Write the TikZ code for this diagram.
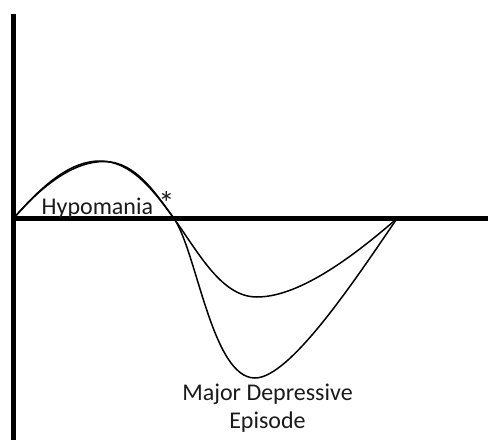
\documentclass[tikz,border=0pt]{standalone}
\usepackage{fontspec}
\setmainfont{Carlito}
\definecolor{axisblack}{HTML}{000000}
\definecolor{curveblack}{HTML}{000000}
\definecolor{labeltext}{HTML}{1A1A1A}

\begin{document}
\begin{tikzpicture}[
    x=1pt, y=-1pt,
    axis/.style={line width=5.5pt, axisblack},
    mood/.style={line width=1.5pt, curveblack},
    lbl/.style={font=\fontsize{24}{27.5}\selectfont, text=labeltext, inner sep=0pt}
]
\useasboundingbox (0,0) rectangle (488,440);

% Axes
\coordinate (O) at (13.5,218.5);
\coordinate (Ytop) at (13.5,14);
\coordinate (Ybot) at (13.5,440);
\coordinate (Xend) at (488,218.5);
\coordinate (Cross) at (174,218.5);
\coordinate (End) at (397,218.5);

% Mood curves (milder dip)
\draw[mood] (O) .. controls (45,182) and (72,161) .. (100,161)
    .. controls (130,161) and (152,188) .. (Cross)
    .. controls (200,255) and (222,297) .. (257,297)
    .. controls (300,297) and (355,255) .. (End);

% Mood curves (deep dip)
\draw[mood] (O) .. controls (45,182) and (76,161) .. (105,161.5)
    .. controls (136,162) and (156,194) .. (Cross)
    .. controls (197,252) and (212,378) .. (255,378)
    .. controls (290,378) and (355,280) .. (End);

\draw[axis] (Ytop) -- (Ybot);
\draw[axis] (O) -- (Xend);

% Labels
\node[lbl, anchor=base west] (hypo) at (41.5,214) {Hypomania \scalebox{1.35}{*}};
\node[lbl, anchor=north, align=center] (mde) at (267.5,384) {Major Depressive\\Episode};

\end{tikzpicture}
\end{document}
